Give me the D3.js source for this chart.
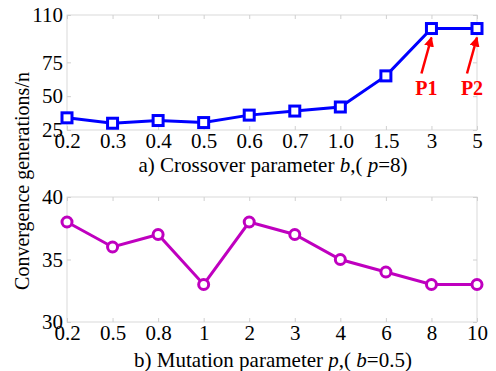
<!DOCTYPE html>
<html>
<head>
<meta charset="utf-8">
<script src="https://cdn.jsdelivr.net/npm/d3@7"></script>
<style>
  body { margin: 0; background: #fff; }
  text { font-family: "Liberation Serif", "Times New Roman", serif; fill: #000; }
</style>
</head>
<body>
<div id="chart"></div>
<script>
// top plot: crossover parameter b
const bLabels = ["0.2", "0.3", "0.4", "0.5", "0.6", "0.7", "1.0", "1.5", "3", "5"];
const bValues = [34, 30, 32, 30.5, 36, 39, 42, 65, 100, 100];
const bTicks = [25, 50, 75, 110];

// bottom plot: mutation parameter p
const pLabels = ["0.2", "0.5", "0.8", "1", "2", "3", "4", "6", "8", "10"];
const pValues = [38, 36, 37, 33, 38, 37, 35, 34, 33, 33];
const pTicks = [30, 35, 40];

const annotations = [{label: "P1", index: 8}, {label: "P2", index: 9}];

const width = 496, height = 371;
const left = 67, right = 477;
const fs = 21;

const svg = d3.select("#chart")
  .append("svg")
  .attr("width", width)
  .attr("height", height);

svg.append("defs").append("marker")
  .attr("id", "arrow")
  .attr("viewBox", "0 0 10 10")
  .attr("refX", 9).attr("refY", 5)
  .attr("markerWidth", 4).attr("markerHeight", 4)
  .attr("orient", "auto")
  .append("path")
  .attr("d", "M0,0 L10,5 L0,10 z")
  .attr("fill", "#ff0000");

function panel(labels, values, ticks, domain, top, bottom, color, shape, title, titleY) {
  const x = d3.scalePoint().domain(labels).range([left, right]);
  const y = d3.scaleLinear().domain(domain).range([bottom, top]);
  const g = svg.append("g");

  // frame
  g.append("rect")
    .attr("x", left).attr("y", top)
    .attr("width", right - left).attr("height", bottom - top)
    .attr("fill", "none").attr("stroke", "#d9d9d9").attr("stroke-width", 1);

  const axL = g.append("g").attr("transform", `translate(${left},0)`)
    .call(d3.axisLeft(y).tickValues(ticks).tickSize(-4).tickPadding(4));
  const axR = g.append("g").attr("transform", `translate(${right},0)`)
    .call(d3.axisRight(y).tickValues(ticks).tickSize(-4).tickFormat(""));
  const axB = g.append("g").attr("transform", `translate(0,${bottom})`)
    .call(d3.axisBottom(x).tickSize(-4).tickPadding(3));
  const axT = g.append("g").attr("transform", `translate(0,${top})`)
    .call(d3.axisTop(x).tickSize(-4).tickFormat(""));
  [axL, axR, axB, axT].forEach(a => {
    a.select(".domain").remove();
    a.selectAll(".tick line").attr("stroke", "#d0d0d0");
    a.selectAll("text").attr("font-size", fs).attr("font-family", "Liberation Serif");
  });
  axB.selectAll("text").attr("dy", "0.72em");

  const line = d3.line().x((d, i) => x(labels[i])).y(d => y(d));
  g.append("path").datum(values)
    .attr("d", line)
    .attr("fill", "none").attr("stroke", color).attr("stroke-width", 3);

  if (shape === "square") {
    g.selectAll(".mk").data(values).join("rect")
      .attr("x", (d, i) => x(labels[i]) - 5)
      .attr("y", d => y(d) - 5)
      .attr("width", 10).attr("height", 10)
      .attr("fill", "#fff").attr("stroke", color).attr("stroke-width", 3);
  } else {
    g.selectAll(".mk").data(values).join("circle")
      .attr("cx", (d, i) => x(labels[i]))
      .attr("cy", d => y(d))
      .attr("r", 5)
      .attr("fill", "#fff").attr("stroke", color).attr("stroke-width", 3);
  }

  const t = g.append("text")
    .attr("x", 273).attr("y", titleY)
    .attr("text-anchor", "middle").attr("font-size", fs);
  title.forEach(s => t.append("tspan").attr("font-style", s.i ? "italic" : null).text(s.t));
  return {x, y};
}

const a = panel(bLabels, bValues, bTicks, [25, 110], 15, 130, "#0000ff", "square",
  [{t: "a) Crossover parameter "}, {t: "b", i: true}, {t: ",( "}, {t: "p", i: true}, {t: "=8)"}], 172);
panel(pLabels, pValues, pTicks, [30, 40], 197, 322, "#bf00bf", "circle",
  [{t: "b) Mutation parameter  "}, {t: "p", i: true}, {t: ",( "}, {t: "b", i: true}, {t: "=0.5)"}], 367);

// P1 / P2 annotations
annotations.forEach(d => {
  const px = a.x(bLabels[d.index]), py = a.y(bValues[d.index]);
  svg.append("line")
    .attr("x1", px - 10).attr("y1", py + 45)
    .attr("x2", px).attr("y2", py + 9)
    .attr("stroke", "#ff0000").attr("stroke-width", 2.5)
    .attr("marker-end", "url(#arrow)");
  svg.append("text")
    .attr("x", px - 5).attr("y", py + 66)
    .attr("text-anchor", "middle")
    .attr("font-size", 20).attr("font-weight", "bold")
    .style("fill", "#ff0000")
    .text(d.label);
});

svg.append("text")
  .attr("transform", "translate(29,181) rotate(-90)")
  .attr("text-anchor", "middle")
  .attr("font-size", 20)
  .text("Convergence generations/n");
</script>
</body>
</html>
